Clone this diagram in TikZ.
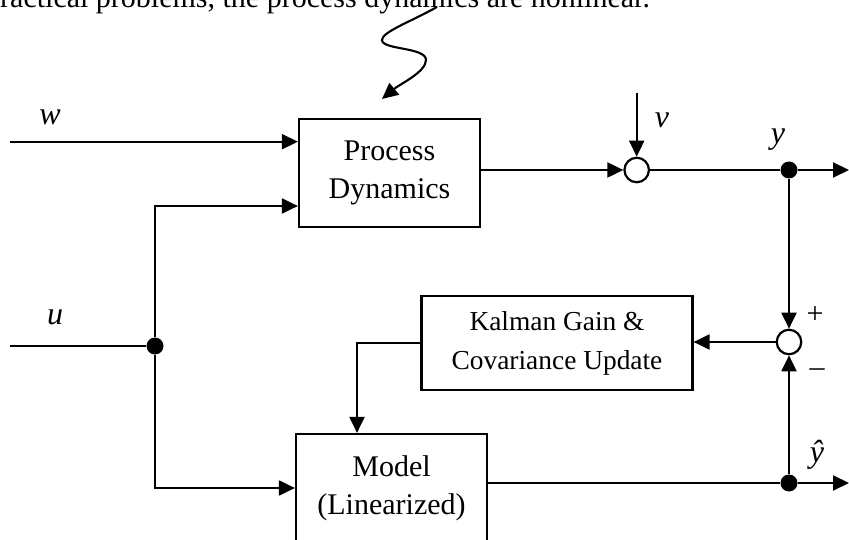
\documentclass[tikz,border=0pt]{standalone}
\usepackage{fontspec}
\setmainfont{Liberation Serif}
\usetikzlibrary{arrows.meta}
\begin{document}
\begin{tikzpicture}[x=1pt,y=-1pt,
  every node/.style={font=\fontsize{30}{38}\selectfont},
  blk/.style={draw,line width=2.2pt,align=center,inner sep=0pt},
  sumc/.style={circle,draw,fill=white,line width=2.2pt,minimum size=24.5pt,inner sep=0pt},
  jdot/.style={circle,fill=black,minimum size=17pt,inner sep=0pt},
  lbl/.style={font=\fontsize{32}{38}\selectfont\itshape,inner sep=0pt},
  sgn/.style={font=\fontsize{30}{36}\selectfont,inner sep=0pt},
  arr/.style={line width=2.1pt,-{Triangle[length=16pt,width=15pt]}},
  ln/.style={line width=2.1pt}]
\useasboundingbox (0,0) rectangle (849,540);
% top text (clipped at the top edge, as in the reference)
\node[anchor=base west,inner sep=0pt] (toptext) at (0,7.5) {ractical problems, the process dynamics are nonlinear.};
% blocks
\node[blk,minimum width=181pt,minimum height=108pt] (proc) at (389.5,173) {Process\\Dynamics};
\node[blk,minimum width=271pt,minimum height=94pt,font=\fontsize{27.4}{39}\selectfont] (kal) at (557,343) {Kalman Gain \&\\Covariance Update};
\node[blk,minimum width=191pt,minimum height=108pt] (model) at (391.5,488) {Model\\(Linearized)};
% summing junctions and dots
\node[sumc] (sa) at (636.7,170) {};
\node[sumc] (sb) at (789,342) {};
\node[jdot] (dy) at (789,170) {};
\node[jdot] (dyh) at (789,483) {};
\node[jdot] (du) at (155,346) {};
% free ends
\coordinate (wst) at (10,141.7);
\coordinate (ust) at (10,346);
\coordinate (vst) at (636.7,93);
\coordinate (yend) at (849,170);
\coordinate (yhend) at (849,483);
\coordinate (sqs) at (437,7);
\coordinate (sqe) at (382,99);
% labels
\node[lbl] (lw) at (50,117) {w};
\node[lbl] (lu) at (55,317) {u};
\node[lbl] (lv) at (662,120) {v};
\node[lbl] (ly) at (778,140) {y};
\node[lbl] (lyh) at (817,455) {ŷ};
\node[sgn] (lp) at (815,315) {+};
\node[sgn] (lm) at (817,373) {–};
% connectors
\draw[arr] (wst) -- (wst -| proc.west);
\draw[ln] (ust) -- (du);
\draw[arr] (du) |- ([yshift=-33pt]proc.west);
\draw[arr] (du) |- (model.west);
\draw[arr] (proc.east |- sa) -- (sa);
\draw[arr] (vst) -- (sa.north);
\draw[ln] (sa) -- (dy);
\draw[arr] (dy) -- (yend);
\draw[arr] (dy) -- (sb.north);
\draw[arr] (sb.west) -- (sb.west -| kal.east);
\draw[arr] (kal.west) -| ([xshift=-34.5pt]model.north);
\draw[ln] (model.east |- dyh) -- (dyh);
\draw[arr] (dyh) -- (yhend);
\draw[arr] (dyh) -- (sb.south);
% squiggle
\draw[arr] (sqs) .. controls (410,22) and (382,32) .. (382,40)
  .. controls (382,50) and (426,47) .. (426,60)
  .. controls (426,72) and (400,84) .. (sqe);
\end{tikzpicture}
\end{document}
